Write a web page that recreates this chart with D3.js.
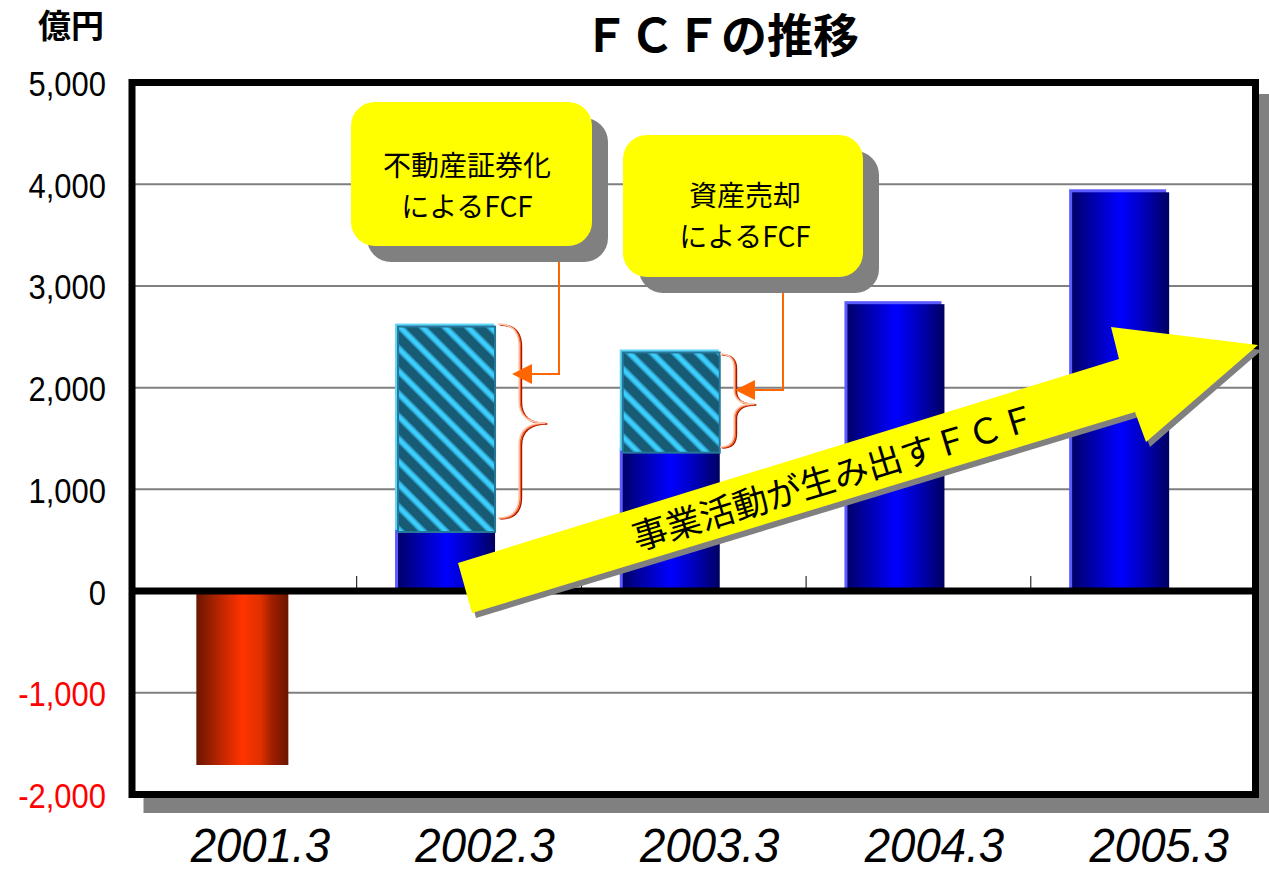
<!DOCTYPE html>
<html><head><meta charset="utf-8">
<script src="https://cdn.jsdelivr.net/npm/d3@7"></script>
<style>body{margin:0;background:#fff;} svg{display:block}</style>
</head><body><svg id="c" width="1269" height="874"></svg>
<script>
// ---------- data ----------
const categories = ["2001.3", "2002.3", "2003.3", "2004.3", "2005.3"];
const operatingFCF = [-1710, 620, 1400, 2850, 3950];   // 事業活動が生み出すFCF
const securitizationFCF = [0, 2010, 0, 0, 0];          // 不動産証券化によるFCF
const assetSaleFCF = [0, 0, 975, 0, 0];                // 資産売却によるFCF
const yTicks = [-2000, -1000, 0, 1000, 2000, 3000, 4000, 5000];
const gridValues = [-1000, 1000, 2000, 3000, 4000];
const titleText = "ＦＣＦの推移";
const unitText = "億円";
const callout1Lines = ["不動産証券化", "によるFCF"];
const callout2Lines = ["資産売却", "によるFCF"];
const arrowText = "事業活動が生み出すＦＣＦ";

// ---------- setup ----------
const svg = d3.select("#c");
const CJK = "'Noto Sans CJK JP', 'Noto Sans CJK SC', sans-serif";
const LAT = "'Liberation Sans', Arial, sans-serif";

const x = d3.scaleBand().domain(categories).range([132, 1255.5]);
const y = d3.scaleLinear().domain([-2000, 5000]).range([794.5, 82.5]);
const bw = x.bandwidth();

const defs = svg.append("defs");
const gBlue = defs.append("linearGradient").attr("id", "gBlue").attr("x1", 0).attr("x2", 1).attr("y1", 0).attr("y2", 0);
[[0, "#00006a"], [0.2, "#0000a8"], [0.5, "#0000ff"], [0.75, "#0000b8"], [1, "#000060"]]
  .forEach(([o, c]) => gBlue.append("stop").attr("offset", o).attr("stop-color", c));
const gRed = defs.append("linearGradient").attr("id", "gRed").attr("x1", 0).attr("x2", 1).attr("y1", 0).attr("y2", 0);
[[0, "#6a1600"], [0.3, "#c82800"], [0.5, "#ff3300"], [0.7, "#e03000"], [0.82, "#a01e00"], [1, "#6a1600"]]
  .forEach(([o, c]) => gRed.append("stop").attr("offset", o).attr("stop-color", c));
const pat = defs.append("pattern").attr("id", "hatch").attr("patternUnits", "userSpaceOnUse")
  .attr("width", 16).attr("height", 16).attr("patternTransform", "rotate(-45)");
pat.append("rect").attr("width", 16).attr("height", 16).attr("fill", "#175b74");
pat.append("rect").attr("x", 0).attr("width", 7).attr("height", 16).attr("fill", "#2a95bd");
pat.append("rect").attr("x", 1.5).attr("width", 4).attr("height", 16).attr("fill", "#3cd0ff");

// frame shadow + white plot
svg.append("rect").attr("x", x.range()[0] + 15 - 3.5).attr("y", y(5000) + 15 - 3.5)
  .attr("width", x.range()[1] - x.range()[0] + 7).attr("height", y(-2000) - y(5000) + 7).attr("fill", "#808080");
svg.append("rect").attr("x", x.range()[0]).attr("y", y(5000))
  .attr("width", x.range()[1] - x.range()[0]).attr("height", y(-2000) - y(5000)).attr("fill", "#fff");

// gridlines
svg.append("g").selectAll("line").data(gridValues).join("line")
  .attr("x1", x.range()[0]).attr("x2", x.range()[1])
  .attr("y1", d => y(d)).attr("y2", d => y(d))
  .attr("stroke", "#7f7f7f").attr("stroke-width", 2);

// bars
const bars = svg.append("g");
categories.forEach((c, i) => {
  const v = operatingFCF[i];
  const extra = securitizationFCF[i] + assetSaleFCF[i];
  if (v < 0) {
    bars.append("rect").attr("x", x(c) + bw / 2 - 48).attr("width", 92)
      .attr("y", y(0)).attr("height", y(v) - y(0)).attr("fill", "url(#gRed)");
    return;
  }
  const x0 = x(c) + bw / 2 - 74;
  bars.append("rect").attr("x", x0).attr("width", 97).attr("y", y(v)).attr("height", y(0) - y(v)).attr("fill", "#5b5bff");
  bars.append("rect").attr("x", x0 + 3).attr("width", 97).attr("y", y(v) + 3).attr("height", y(0) - y(v) - 3).attr("fill", "url(#gBlue)");
  if (extra > 0) {
    const top = v + extra;
    bars.append("rect").attr("x", x0).attr("width", 99).attr("y", y(top)).attr("height", y(v) - y(top) + 2).attr("fill", "#5fd5f8");
    bars.append("rect").attr("x", x0 + 3).attr("width", 97).attr("y", y(top) + 3).attr("height", y(v) - y(top) + 1)
      .attr("fill", "url(#hatch)").attr("stroke", "#25789a").attr("stroke-width", 2);
  }
});

// zero axis line and category ticks
svg.append("line").attr("x1", x.range()[0]).attr("x2", x.range()[1]).attr("y1", y(0)).attr("y2", y(0))
  .attr("stroke", "#000").attr("stroke-width", 7);
svg.append("g").selectAll("line").data(categories.slice(1)).join("line")
  .attr("x1", d => x(d)).attr("x2", d => x(d)).attr("y1", y(0) - 15).attr("y2", y(0))
  .attr("stroke", "#000").attr("stroke-width", 1);

// frame border
svg.append("rect").attr("x", x.range()[0]).attr("y", y(5000))
  .attr("width", x.range()[1] - x.range()[0]).attr("height", y(-2000) - y(5000))
  .attr("fill", "none").attr("stroke", "#000").attr("stroke-width", 7);

// y axis
const fmt = d => d3.format(",")(d).replace("\u2212", "-");
const yAxis = svg.append("g").attr("transform", "translate(106,0)")
  .call(d3.axisLeft(y).tickValues(yTicks).tickFormat(fmt).tickSize(0).tickPadding(0));
yAxis.select(".domain").remove();
yAxis.selectAll("text").attr("x", 0).attr("dy", "0.36em")
  .attr("font-family", LAT).attr("font-size", 36)
  .attr("transform", "scale(0.86,1)")
  .attr("fill", d => d < 0 ? "#ff0000" : "#000");

// x axis labels
const xAxis = svg.append("g").attr("transform", `translate(16,${862})`)
  .call(d3.axisBottom(x).tickSize(0).tickPadding(0));
xAxis.select(".domain").remove();
xAxis.selectAll("text").attr("y", 0).attr("dy", 0).attr("x", 0)
  .attr("font-family", LAT).attr("font-size", 48).attr("font-style", "italic").attr("fill", "#000")
  .attr("transform", "scale(0.95,1)");

// title + unit
svg.append("text").attr("x", 721).attr("y", 52).attr("text-anchor", "middle")
  .attr("font-family", CJK).attr("font-weight", "bold").attr("font-size", 46).text(titleText);
svg.append("text").attr("x", 71).attr("y", 38).attr("text-anchor", "middle")
  .attr("font-family", CJK).attr("font-weight", "bold").attr("font-size", 33).text(unitText);

// braces
function brace(x0, xv, xm, top, bot, mid, r) {
  return `M${x0},${top} Q${xv},${top} ${xv},${top + r} L${xv},${mid - r} Q${xv},${mid} ${xm},${mid} ` +
         `Q${xv},${mid} ${xv},${mid + r} L${xv},${bot - r} Q${xv},${bot} ${x0},${bot}`;
}
const braces = [
  brace(498, 519, 545, 324, 518, 423, 22),
  brace(720, 734, 754, 354, 447, 404, 14)
];
const bg = svg.append("g").attr("fill", "none");
braces.forEach(p => {
  bg.append("path").attr("d", p).attr("stroke", "#9a1c00").attr("stroke-width", 1.6).attr("transform", "translate(2.4,1)");
  bg.append("path").attr("d", p).attr("stroke", "#ff5a1e").attr("stroke-width", 1.6).attr("transform", "translate(1.2,0.5)");
  bg.append("path").attr("d", p).attr("stroke", "#ffc8b0").attr("stroke-width", 1.4);
});

// connectors
const conns = [
  {pts: [[559, 246], [559, 374], [528, 374]], tip: [512, 374]},
  {pts: [[783, 277], [783, 390], [752, 390]], tip: [735, 390]}
];
conns.forEach(c => {
  svg.append("polyline").attr("points", c.pts.map(p => p.join(",")).join(" "))
    .attr("fill", "none").attr("stroke", "#ff6600").attr("stroke-width", 2);
  const [tx, ty] = c.tip;
  svg.append("polygon").attr("points", `${tx},${ty} ${tx + 20},${ty - 10} ${tx + 20},${ty + 10}`).attr("fill", "#ff6600");
});

// callouts
function callout(x0, y0, w, h, lines, cx, cys) {
  svg.append("rect").attr("x", x0 + 16).attr("y", y0 + 16).attr("width", w).attr("height", h).attr("rx", 24).attr("fill", "#808080");
  svg.append("rect").attr("x", x0).attr("y", y0).attr("width", w).attr("height", h).attr("rx", 24).attr("fill", "#ffff00");
  lines.forEach((l, i) => svg.append("text").attr("text-anchor", "middle")
    .attr("font-family", CJK).attr("font-size", 28).attr("fill", "#000")
    .attr("x", cx).attr("y", cys[i] + 10.5).text(l));
}
callout(351, 102, 241, 144, callout1Lines, 467, [165, 206]);
callout(623, 135, 240, 142, callout2Lines, 745, [195, 236]);

// big arrow
const arrowPts = [[458, 563], [1119, 359], [1111, 327], [1258, 345], [1146, 442], [1135, 412], [472, 613]];
svg.append("polygon").attr("points", arrowPts.map(p => `${p[0] + 4},${p[1] + 5}`).join(" ")).attr("fill", "#808080");
svg.append("polygon").attr("points", arrowPts.map(p => p.join(",")).join(" ")).attr("fill", "#ffff00");
svg.append("text").attr("transform", "translate(834,477) rotate(-17)")
  .attr("text-anchor", "middle").attr("y", 13)
  .attr("font-family", CJK).attr("font-size", 35).attr("fill", "#000").text(arrowText);
</script></body></html>
